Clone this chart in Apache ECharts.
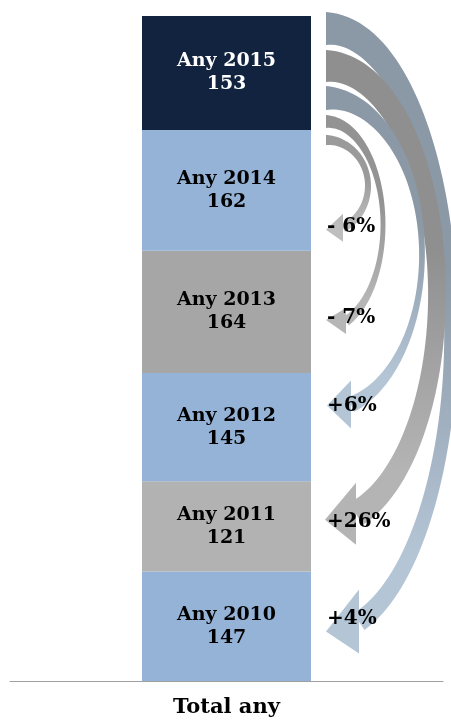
<!DOCTYPE html>
<html>
<head>
<meta charset="utf-8">
<script src="https://cdn.jsdelivr.net/npm/echarts@6/dist/echarts.min.js"></script>
<style>
  html, body { margin: 0; padding: 0; background: #fff; }
  #chart { width: 451px; height: 720px; }
</style>
</head>
<body>
<div id="chart"></div>
<script>
// data
const categories = ['Total any']
const years = ['2010', '2011', '2012', '2013', '2014', '2015']
const values = [147, 121, 145, 164, 162, 153]
// change of 2015 against 2010 .. 2014
const changes = ['+4%', '+26%', '+6%', '- 7%', '- 6%']

// styles
const segColors = ['#95B3D7', '#B2B2B2', '#95B3D7', '#A6A6A6', '#95B3D7', '#12233F']
const labelColors = ['#000', '#000', '#000', '#000', '#000', '#fff']
const font = 'DejaVu Serif'
const barWidth = 169

// arrow shapes in px: start band below bar top, reach right of bar,
// end / tip relative to the label anchor (f = fraction down the target segment)
const arrowShapes = [
  { f: 0.43, start: [-4, 29], reach: 140, wm: 14, w1: 20, end: [48, 3], tip: [15, 13], hw: 32, from: '#8B98A6', to: '#B4C5D6' },
  { f: 0.45, start: [34, 66], reach: 126, wm: 18, w1: 26, end: [45, -8], tip: [14, -2], hw: 31, from: '#8F8F8F', to: '#B4B4B4' },
  { f: 0.30, start: [70, 94], reach: 111, wm: 6, w1: 16, end: [40, -1], tip: [16, 0], hw: 24, from: '#8B98A6', to: '#B4C5D6' },
  { f: 0.55, start: [99, 112], reach: 72, wm: 5, w1: 10, end: [35, 3], tip: [15, 2], hw: 13, from: '#939393', to: '#B6B6B6' },
  { f: 0.80, start: [119, 129], reach: 57, wm: 6, w1: 9, end: [32, 1], tip: [15, 3], hw: 14, from: '#9A9A9A', to: '#BEBEBE' }
]

const total = values.reduce((a, b) => a + b, 0)

function renderArrow(params, api) {
  const k = api.value(1)
  const s = arrowShapes[k]
  let bottom = 0
  for (let i = 0; i < k; i++) bottom += values[i]
  const top = bottom + values[k]
  const ay = api.coord([0, top - s.f * values[k]])[1]
  const barTop = api.coord([0, total])[1]
  const bx = api.coord([0, 0])[0] + barWidth / 2

  const sx = bx + 15
  const ys = barTop + (s.start[0] + s.start[1]) / 2
  const w0 = s.start[1] - s.start[0]
  const rx = bx + s.reach - sx
  const ex = bx + s.end[0]
  const ey = ay + s.end[1]
  const te = Math.acos((ex - sx) / rx)
  const ry = (ey - ys) / (1 + Math.sin(te))
  const cy = ys + ry
  const t0 = -Math.PI / 2
  const wc = 2 * s.wm - (w0 + s.w1) / 2

  const outer = []
  const inner = []
  const n = 80
  for (let i = 0; i <= n; i++) {
    const t = i / n
    const th = t0 + (te - t0) * t
    const px = sx + rx * Math.cos(th)
    const py = cy + ry * Math.sin(th)
    let nx = ry * Math.cos(th)
    let ny = rx * Math.sin(th)
    const len = Math.hypot(nx, ny)
    nx /= len
    ny /= len
    const w = (w0 * (1 - t) * (1 - t) + 2 * wc * t * (1 - t) + s.w1 * t * t) / 2
    outer.push([px + nx * w, py + ny * w])
    inner.push([px - nx * w, py - ny * w])
  }
  const tx = bx + s.tip[0]
  const ty = ay + s.tip[1]

  const fill = new echarts.graphic.LinearGradient(0, ys - w0 / 2, 0, ey + s.hw, [
    { offset: 0, color: s.from },
    { offset: 0.4, color: s.from },
    { offset: 0.85, color: s.to },
    { offset: 1, color: s.to }
  ], true)

  return {
    type: 'group',
    children: [
      {
        type: 'polygon',
        shape: { points: outer.concat(inner.reverse()) },
        style: { fill: fill }
      },
      {
        type: 'polygon',
        shape: { points: [[ex, ey - s.hw], [tx, ty], [ex, ey + s.hw]] },
        style: { fill: fill }
      },
      {
        type: 'text',
        style: {
          text: changes[k],
          x: bx + 16,
          y: ay,
          fill: '#000',
          font: 'bold 20px "' + font + '"',
          verticalAlign: 'middle',
          align: 'left'
        }
      }
    ]
  }
}

const series = years.map((y, i) => ({
  name: y,
  type: 'bar',
  stack: 'total',
  barWidth: barWidth,
  data: [values[i]],
  itemStyle: { color: segColors[i] },
  label: {
    show: true,
    position: 'inside',
    formatter: 'Any ' + y + '\n' + values[i],
    color: labelColors[i],
    fontFamily: font,
    fontWeight: 'bold',
    fontSize: 19,
    lineHeight: 23
  }
}))

series.push({
  type: 'custom',
  renderItem: renderArrow,
  data: changes.map((c, i) => [0, i]),
  encode: { x: 0 },
  clip: false,
  z: 3
})

const chart = echarts.init(document.getElementById('chart'))
chart.setOption({
  animation: false,
  backgroundColor: '#fff',
  grid: { left: 10, right: 8, top: 16, bottom: 39 },
  xAxis: {
    type: 'category',
    data: categories,
    axisTick: { show: false },
    axisLine: { lineStyle: { color: '#A0A0A0', width: 1 } },
    axisLabel: {
      margin: 16,
      color: '#000',
      fontFamily: font,
      fontWeight: 'bold',
      fontSize: 21
    }
  },
  yAxis: {
    type: 'value',
    min: 0,
    max: total,
    show: false
  },
  series: series
})
</script>
</body>
</html>
